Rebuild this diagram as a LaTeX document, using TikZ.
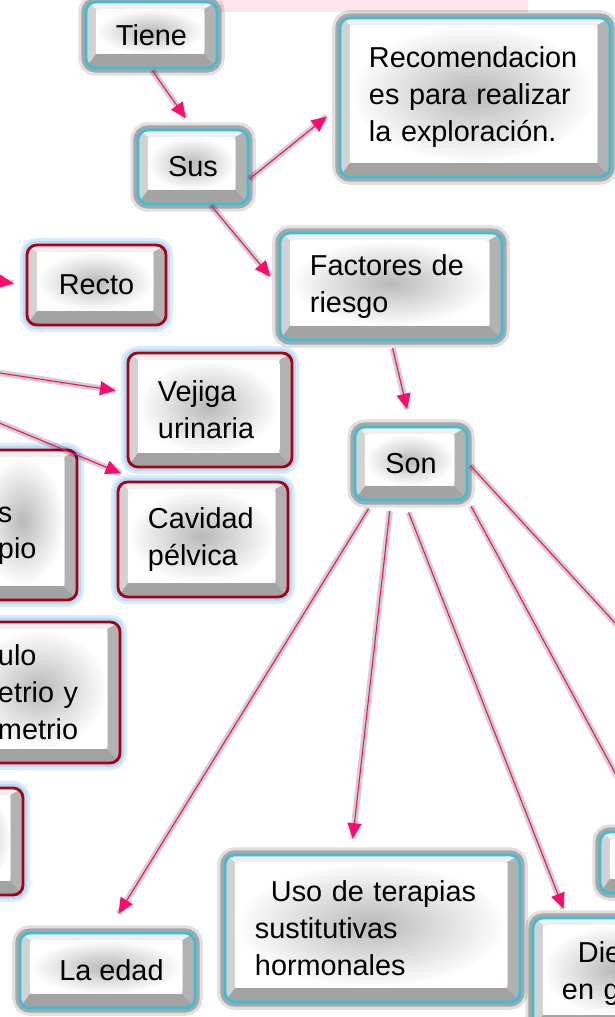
\documentclass[tikz,border=0pt]{standalone}
\usepackage{fontspec}
\setmainfont{Liberation Sans}
\usetikzlibrary{calc}
\usetikzlibrary{arrows.meta}

\definecolor{keyblue}{RGB}{60,190,215}
\definecolor{keyred}{RGB}{170,0,15}
\definecolor{glowblue}{RGB}{175,215,250}
\definecolor{linkpink}{RGB}{255,10,110}
\definecolor{bandpink}{RGB}{253,228,236}

\tikzset{
  keyface/.style={path picture={
    \coordinate (kfsw) at (path picture bounding box.south west);
    \coordinate (kfne) at (path picture bounding box.north east);
    \coordinate (kfnw) at (kfsw|-kfne);
    \coordinate (kfse) at (kfne|-kfsw);
    \coordinate (kfa) at ($(kfnw)+(7pt,-5pt)$);
    \coordinate (kfb) at ($(kfne)+(-9pt,-5pt)$);
    \coordinate (kfc) at ($(kfse)+(-9pt,10pt)$);
    \coordinate (kfd) at ($(kfsw)+(7pt,10pt)$);
    \fill[gray!12,sharp corners] (kfnw)--(kfne)--(kfb)--(kfa)--cycle;
    \fill[gray!35,sharp corners] (kfnw)--(kfa)--(kfd)--(kfsw)--cycle;
    \fill[gray!60,sharp corners] (kfne)--(kfse)--(kfc)--(kfb)--cycle;
    \fill[gray!72,sharp corners] (kfsw)--(kfd)--(kfc)--(kfse)--cycle;
    \shade[inner color=gray!55,outer color=white,rounded corners=3pt] (kfd) rectangle (kfb);
  }},
  keycap/.style={keyface, rounded corners=7pt, line width=2pt, inner sep=0pt,
    font=\fontsize{20.5pt}{26.3pt}\selectfont, text=black},
  bluekey/.style={keycap, draw=keyblue,
    preaction={draw=black, opacity=.12, line width=11pt},
    preaction={draw=black, opacity=.25, line width=6.5pt}},
  redkey/.style={keycap, draw=keyred,
    preaction={draw=glowblue, opacity=.45, line width=10pt},
    preaction={draw=glowblue, opacity=.8, line width=6pt}},
  linkline/.style={draw=linkpink, line width=.8pt,
    preaction={draw=black, opacity=.18, line width=4.5pt, arrows=-}},
  conn/.style={linkline, -{Triangle[length=11pt,width=10pt]}},
}

\begin{document}
\begin{tikzpicture}[x=0.025cm, y=-0.025cm]
\useasboundingbox (0,0) rectangle (615,1017);
\fill[white] (0,0) rectangle (615,1017);
\fill[bandpink] (220,0) rectangle (528,12);

% upper part
\node[bluekey, minimum width=3.275cm, minimum height=1.65cm] (tiene) at (151.5,35) {Tiene};
\node[bluekey, minimum width=2.75cm, minimum height=1.85cm] (sus) at (193,167) {Sus};
\node[bluekey, minimum width=6.75cm, minimum height=3.975cm, text width=5.3cm, align=left] (recom) at (475,97.5)
  {Recomendacion\\es para realizar\\la exploración.};
\node[bluekey, minimum width=5.55cm, minimum height=2.675cm, text width=4.05cm, align=left] (factores) at (391,286.5)
  {Factores de\\riesgo};
\node[bluekey, minimum width=2.8cm, minimum height=1.825cm] (son) at (411,463.5) {Son};

% left column (cut at the border)
\node[redkey, minimum width=3.475cm, minimum height=2cm] (recto) at (96.5,285) {Recto};
\node[redkey, minimum width=4.1cm, minimum height=2.85cm, text width=2.6cm, align=left] (vejiga) at (210,410)
  {Vejiga\\urinaria};
\node[redkey, minimum width=4.25cm, minimum height=2.875cm, text width=2.75cm, align=left] (cavidad) at (203,539.5)
  {Cavidad\\pélvica};
\node[redkey, minimum width=2.675cm, minimum height=3.75cm, text width=1.275cm, align=left] (cutpio) at (23.5,525)
  {\mbox{}\\s\\pio};
\node[redkey, minimum width=4cm, minimum height=3.525cm, text width=2.1cm, align=left] (cutmetrio) at (40,692.5)
  {ulo\\etrio y\\metrio};
\node[redkey, minimum width=2.075cm, minimum height=2.675cm] (cutlow) at (-18.5,841.5) {};

% factors
\node[bluekey, minimum width=4.375cm, minimum height=1.875cm] (edad) at (107.5,970.5) {\hspace*{0.2cm}La edad};
\node[bluekey, minimum width=7.375cm, minimum height=3.675cm, text width=5.875cm, align=left] (terapias) at (372.5,928.5)
  {\hspace*{0.4cm}Uso de terapias\\sustitutivas\\hormonales};
\node[bluekey, minimum width=4.175cm, minimum height=2.775cm, text width=2.725cm, align=left] (dieta) at (616.5,973.5)
  {\hspace*{0.4cm}Die\\en g};
\node[bluekey, minimum width=2.5cm, minimum height=1.525cm] (cutright) at (650,862.5) {};

\coordinate (fromrecto) at (-40,276);
\coordinate (fromvejiga) at (-20,370);
\coordinate (fromcavidad) at (-20,415);
\coordinate (toright1) at (640,650);
\coordinate (toright2) at (640,819);

% connectors
\draw[conn, shorten <=1pt, shorten >=9pt] (tiene.south) -- (sus.north);
\draw[conn, shorten >=10.7pt] (sus.-12) -- (recom.184);
\draw[conn, shorten >=9.2pt] (sus.-65) -- (factores.west);
\draw[conn, shorten <=5pt, shorten >=12pt] (factores.south) -- (son.north);
\draw[conn, shorten <=6pt, shorten >=15pt] (son.-135) -- (edad.north);
\draw[conn, shorten <=7pt, shorten >=10.7pt] (son.-118) -- (terapias.106);
\draw[conn, shorten <=8.5pt, shorten >=6pt] (son.-100) -- ($(dieta.north west)+(35,0)$);
\draw[linkline, shorten <=2pt] (son.east) -- (toright1);
\draw[linkline, shorten <=4pt] (son.south east) -- (toright2);
\draw[conn, shorten >=8.5pt] (fromrecto) -- (recto.west);
\draw[conn, shorten >=8pt] (fromvejiga) -- (vejiga.168);
\draw[conn, shorten >=13.5pt] (fromcavidad) -- ($(cavidad.north west)+(22,0)$);
\end{tikzpicture}
\end{document}
